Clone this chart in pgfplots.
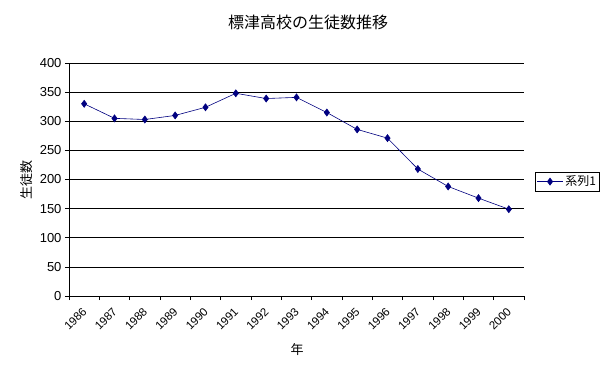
\documentclass[border=0pt]{standalone}
\usepackage{pgfplots}
\pgfplotsset{compat=1.18}
\usepackage{fontspec}
\setmainfont{Liberation Sans}
\newfontfamily\cjk{Noto Sans CJK JP}
\definecolor{navy}{RGB}{0,0,128}
\begin{document}
\begin{tikzpicture}[x=1pt,y=1pt]
\path[use as bounding box, fill=white] (0,0) rectangle (616,376);
\begin{axis}[
  at={(69pt,80pt)}, anchor=south west,
  scale only axis, width=455pt, height=233pt,
  xmin=-0.5, xmax=14.5, ymin=0, ymax=400,
  xtick={-0.5,0.5,...,14.5},
  xticklabels={},
  extra x ticks={0,1,2,3,4,5,6,7,8,9,10,11,12,13,14},
  extra x tick labels={1986,1987,1988,1989,1990,1991,1992,1993,1994,1995,1996,1997,1998,1999,2000},
  extra x tick style={major tick length=0pt},
  xticklabel style={rotate=45, anchor=east, font=\fontsize{11.5}{13}\selectfont, xshift=-6pt, yshift=-10pt},
  ytick={0,50,...,400},
  yticklabel style={font=\fontsize{13}{15}\selectfont},
  /pgf/number format/assume math mode=true,
  ymajorgrids, grid style={black, line width=0.75pt},
  axis x line*=bottom, axis y line*=left,
  axis line style={black, line width=0.75pt, -},
  tick align=outside, major tick length=4pt,
  tick style={black, line width=0.75pt},
  legend style={at={(1.024,0.491)}, anchor=west, draw=black, line width=0.6pt,
    font=\cjk\fontsize{12}{14}\selectfont, inner sep=1.5pt},
  legend image code/.code={\draw[mark repeat=2,mark phase=2,#1] plot coordinates {(0pt,0pt)(13pt,0pt)(26pt,0pt)};},
]
\addplot[color=navy, line width=0.6pt, mark=diamond*, mark size=3.5pt, mark options={solid, fill=navy}]
  coordinates {(0,330)(1,305)(2,303)(3,310)(4,324)(5,348)(6,339)(7,341)(8,315)(9,286)(10,271)(11,218)(12,188)(13,168)(14,149)};
\addlegendentry{系列1}
\end{axis}
\node[font=\cjk\fontsize{16}{18}\selectfont] at (308,354) {標津高校の生徒数推移};
\node[font=\cjk\fontsize{13}{15}\selectfont, rotate=90] at (27,196) {生徒数};
\node[font=\cjk\fontsize{13}{15}\selectfont] at (297,26) {年};
\end{tikzpicture}
\end{document}
